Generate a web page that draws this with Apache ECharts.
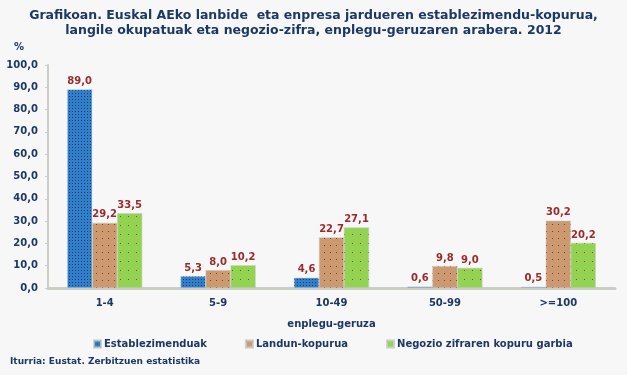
<!DOCTYPE html>
<html>
<head>
<meta charset="utf-8">
<script src="https://cdn.jsdelivr.net/npm/echarts@6/dist/echarts.min.js"></script>
<style>
  html, body { margin: 0; padding: 0; background: #f7f7f7; }
  #chart { width: 627px; height: 375px; }
</style>
</head>
<body>
<div id="chart"></div>
<script>
'use strict';

// Data
var categories = ['1-4', '5-9', '10-49', '50-99', '>=100'];
var seriesNames = ['Establezimenduak', 'Landun-kopurua', 'Negozio zifraren kopuru garbia'];
var establezimenduak = [89.0, 5.3, 4.6, 0.6, 0.5];
var landunKopurua = [29.2, 8.0, 22.7, 9.8, 30.2];
var negozioZifra = [33.5, 10.2, 27.1, 9.0, 20.2];

var navy = '#1c3866';
var font = 'DejaVu Sans';

var fmt = function (v) { return v.toFixed(1).replace('.', ','); };

// bar look: base colour plus a dotted pattern like the original
var styles = [
  {color: '#2f7fcb', decal: {symbol: 'rect', symbolSize: 1, color: '#1d3c6e', dashArrayX: [1, 2], dashArrayY: [1, 2]}},
  {color: '#cc9a70', decal: {symbol: 'rect', symbolSize: 1, color: '#a3292b', dashArrayX: [1, 5], dashArrayY: [1, 6]}},
  {color: '#93d352', decal: {symbol: 'rect', symbolSize: 1, color: '#b0302e', dashArrayX: [1, 7], dashArrayY: [1, 8]}},
];

function makeSeries(name, data, i) {
  return {
    name: name,
    type: 'bar',
    data: data,
    barWidth: 25,
    barGap: '0%',
    itemStyle: {
      color: styles[i].color,
      decal: styles[i].decal,
      borderColor: 'rgba(200,205,200,0.6)',
      borderWidth: 0.5,
    },
    label: {
      show: true,
      position: 'top',
      distance: 3,
      formatter: function (p) { return fmt(p.value); },
      color: '#9c2a2c',
      fontFamily: font,
      fontWeight: 'bold',
      fontSize: 10,
    },
  };
}

var chart = echarts.init(document.getElementById('chart'), null, {renderer: 'canvas'});

chart.setOption({
  animation: false,
  backgroundColor: '#f7f7f7',
  title: {
    text: 'Grafikoan. Euskal AEko lanbide  eta enpresa jardueren establezimendu-kopurua,\nlangile okupatuak eta negozio-zifra, enplegu-geruzaren arabera. 2012',
    left: 'center',
    top: 3,
    textStyle: {
      fontFamily: font,
      fontSize: 12.5,
      fontWeight: 'bold',
      color: navy,
      lineHeight: 15,
      align: 'center',
    },
  },
  graphic: [
    {type: 'text', left: 14, top: 42, style: {text: '%', fill: navy, font: 'bold 10px ' + font}},
    {type: 'text', left: 10, top: 357, style: {text: 'Iturria: Eustat. Zerbitzuen estatistika', fill: navy, font: 'bold 9px ' + font}},
  ],
  legend: {
    data: seriesNames,
    left: 88,
    top: 334,
    itemWidth: 7,
    itemHeight: 7,
    itemGap: 38,
    icon: 'rect',
    textStyle: {fontFamily: font, fontSize: 10, fontWeight: 'bold', color: navy, padding: [0, 0, 0, -2]},
  },
  grid: {left: 48, right: 12, top: 65, bottom: 87},
  xAxis: {
    type: 'category',
    data: categories,
    name: 'enplegu-geruza',
    nameLocation: 'middle',
    nameGap: 31,
    nameTextStyle: {fontFamily: font, fontSize: 10, fontWeight: 'bold', color: navy},
    axisLine: {lineStyle: {color: '#c9cec7', width: 3}},
    axisTick: {show: false},
    axisLabel: {fontFamily: font, fontSize: 10, fontWeight: 'bold', color: navy, margin: 10},
  },
  yAxis: {
    type: 'value',
    min: 0,
    max: 100,
    interval: 10,
    axisLine: {show: true, lineStyle: {color: '#c9cec7', width: 2}},
    axisTick: {show: true, length: 3, lineStyle: {color: '#c9cec7'}},
    splitLine: {show: false},
    axisLabel: {
      formatter: fmt,
      fontFamily: font, fontSize: 10, fontWeight: 'bold', color: navy, margin: 10,
    },
  },
  series: [
    makeSeries(seriesNames[0], establezimenduak, 0),
    makeSeries(seriesNames[1], landunKopurua, 1),
    makeSeries(seriesNames[2], negozioZifra, 2),
  ],
});
</script>
</body>
</html>
